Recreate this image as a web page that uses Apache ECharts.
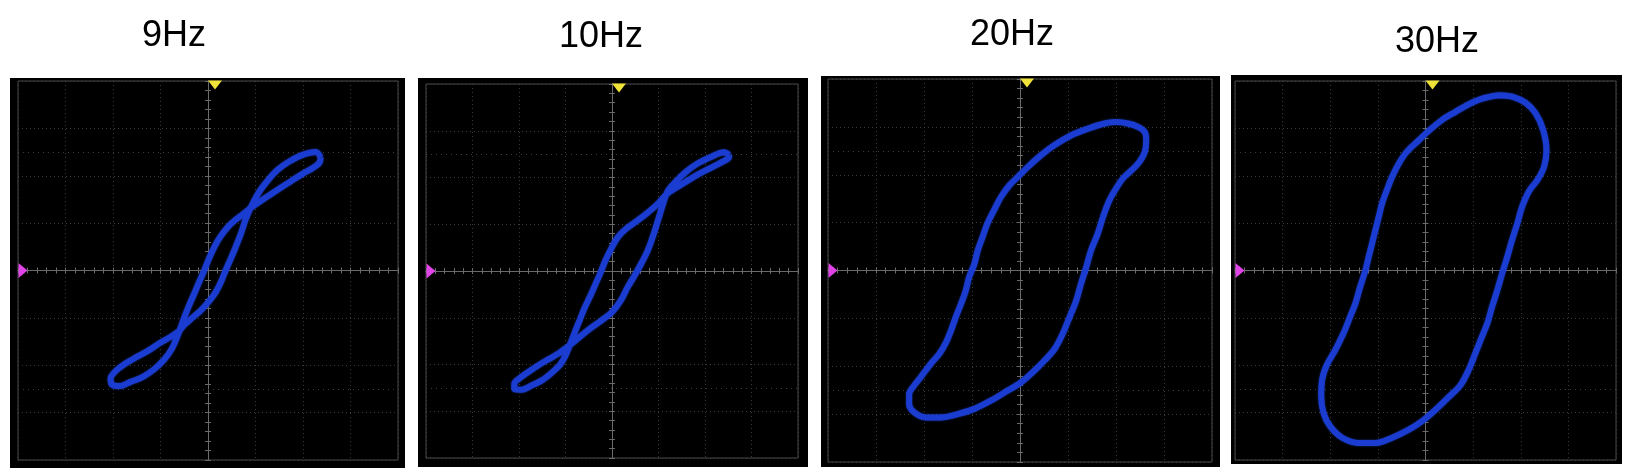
<!DOCTYPE html>
<html>
<head>
<meta charset="utf-8">
<script src="https://cdn.jsdelivr.net/npm/echarts@6/dist/echarts.min.js"></script>
<style>
html,body{margin:0;padding:0;background:#fff;}
#chart{width:1632px;height:476px;}
</style>
</head>
<body>
<div id="chart"></div>
<script>
// ---- data (oscilloscope divisions, X-Y mode) ----
const titles = ['9Hz', '10Hz', '20Hz', '30Hz'];

const hz9X = [2.37,2.27,1.99,1.71,1.46,1.25,1.07,0.90,0.79,0.69,0.58,0.48,0.37,0.27,0.16,0.02,-0.15,-0.33,-0.51,-0.61,-0.82,-1.03,-1.24,-1.49,-1.73,-1.94,-2.05,-2.03,-1.87,-1.63,-1.38,-1.14,-0.93,-0.76,-0.61,-0.51,-0.40,-0.29,-0.19,-0.08,0.02,0.13,0.25,0.41,0.58,0.74,0.90,1.07,1.25,1.49,1.74,1.99,2.20,2.35,2.37];
const hz9Y = [2.39,2.50,2.44,2.30,2.12,1.89,1.65,1.33,1.07,0.77,0.49,0.25,0.00,-0.25,-0.46,-0.65,-0.84,-1.00,-1.16,-1.28,-1.42,-1.54,-1.68,-1.82,-1.96,-2.12,-2.28,-2.40,-2.44,-2.35,-2.25,-2.09,-1.89,-1.65,-1.30,-1.02,-0.74,-0.49,-0.25,0.00,0.25,0.49,0.70,0.91,1.07,1.19,1.32,1.44,1.56,1.72,1.88,2.04,2.16,2.28,2.39];

const hz10X = [2.52,2.41,2.13,1.84,1.59,1.38,1.20,1.09,1.00,0.90,0.77,0.63,0.49,0.34,0.19,0.00,-0.23,-0.48,-0.73,-0.94,-1.16,-1.37,-1.59,-1.80,-1.98,-2.10,-2.10,-1.94,-1.73,-1.51,-1.30,-1.12,-1.00,-0.91,-0.80,-0.69,-0.59,-0.46,-0.35,-0.24,-0.14,-0.01,0.13,0.31,0.52,0.77,0.99,1.19,1.38,1.59,1.84,2.09,2.34,2.51,2.52];
const hz10Y = [2.48,2.54,2.44,2.30,2.12,1.92,1.71,1.41,1.12,0.80,0.44,0.16,-0.09,-0.34,-0.63,-0.88,-1.06,-1.24,-1.44,-1.61,-1.77,-1.89,-2.02,-2.16,-2.29,-2.41,-2.52,-2.54,-2.45,-2.34,-2.18,-2.01,-1.81,-1.59,-1.31,-1.04,-0.79,-0.52,-0.27,-0.02,0.23,0.49,0.73,0.91,1.06,1.25,1.44,1.66,1.78,1.91,2.06,2.19,2.32,2.42,2.48];

const hz20X = [2.63,2.60,2.49,2.32,2.14,2.00,1.86,1.73,1.62,1.48,1.38,1.27,1.17,1.03,0.89,0.72,0.51,0.26,0.02,-0.26,-0.61,-0.95,-1.30,-1.65,-1.96,-2.21,-2.31,-2.31,-2.21,-2.07,-1.86,-1.68,-1.54,-1.44,-1.34,-1.23,-1.13,-1.06,-0.95,-0.88,-0.78,-0.68,-0.54,-0.40,-0.22,-0.05,0.16,0.44,0.72,1.06,1.41,1.76,2.00,2.25,2.46,2.60,2.63];
const hz20Y = [2.72,2.48,2.27,2.09,1.92,1.71,1.46,1.12,0.77,0.42,0.07,-0.28,-0.63,-0.98,-1.32,-1.64,-1.88,-2.13,-2.34,-2.51,-2.72,-2.89,-3.00,-3.07,-3.07,-2.96,-2.79,-2.58,-2.41,-2.23,-1.95,-1.74,-1.50,-1.26,-0.98,-0.70,-0.42,-0.14,0.14,0.42,0.70,0.98,1.26,1.53,1.78,1.95,2.16,2.41,2.62,2.82,2.96,3.07,3.10,3.07,3.00,2.89,2.72];

const hz30X = [1.54,1.82,2.10,2.31,2.47,2.54,2.49,2.35,2.17,2.03,1.93,1.82,1.72,1.61,1.51,1.40,1.30,1.16,1.05,0.91,0.74,0.49,0.21,-0.07,-0.35,-0.70,-1.05,-1.40,-1.75,-2.00,-2.14,-2.19,-2.17,-2.07,-1.89,-1.72,-1.58,-1.47,-1.37,-1.26,-1.19,-1.12,-1.05,-0.98,-0.91,-0.81,-0.70,-0.56,-0.39,-0.14,0.07,0.35,0.63,0.91,1.19,1.54];
const hz30Y = [3.70,3.67,3.54,3.32,2.97,2.54,2.19,1.91,1.67,1.35,1.00,0.65,0.30,-0.06,-0.41,-0.76,-1.11,-1.46,-1.74,-2.09,-2.41,-2.67,-2.94,-3.18,-3.36,-3.53,-3.64,-3.64,-3.53,-3.29,-3.01,-2.66,-2.30,-1.99,-1.67,-1.32,-0.97,-0.69,-0.34,0.01,0.30,0.58,0.86,1.14,1.42,1.70,1.98,2.26,2.51,2.75,2.95,3.18,3.35,3.51,3.63,3.70];

const seriesX = [hz9X, hz10X, hz20X, hz30X];
const seriesY = [hz9Y, hz10Y, hz20Y, hz30Y];
const refLines = [2.5, -2.5];

// ---- layout (pixels) ----
const layout = [
  {box: [10, 78, 395, 390],  grid: [18, 81, 380, 379],   title: [174, 18]},
  {box: [418, 78, 390, 389], grid: [426, 84, 372, 374],  title: [601, 19]},
  {box: [821, 76, 399, 391], grid: [828, 79, 384, 383],  title: [1012, 17]},
  {box: [1231, 75, 391, 389], grid: [1235, 81, 381, 379], title: [1437, 24]}
];

const gridCol = '#3b3b3b';
const axisCol = '#6a6a6a';
const traceCol = '#1a3cd0';

const grids = [], xAxes = [], yAxes = [], series = [], titleOpts = [], graphics = [];

layout.forEach((L, i) => {
  graphics.push({
    type: 'rect', z: -100, silent: true,
    shape: {x: L.box[0], y: L.box[1], width: L.box[2], height: L.box[3]},
    style: {fill: '#000'}
  });
  grids.push({
    left: L.grid[0], top: L.grid[1], width: L.grid[2], height: L.grid[3],
    show: true, backgroundColor: 'transparent', borderColor: '#4a4a4a', borderWidth: 1
  });
  titleOpts.push({
    text: titles[i], left: L.title[0], top: L.title[1], padding: 0,
    textAlign: 'center', textBaseline: 'top',
    textStyle: {fontFamily: 'Liberation Sans', fontSize: 36, fontWeight: 'normal', color: '#000'}
  });
  const common = {
    gridIndex: i, type: 'value', min: -4, max: 4, interval: 1,
    axisLabel: {show: false},
    axisLine: {show: true, onZero: true, lineStyle: {color: axisCol, width: 1}},
    axisTick: {show: true, inside: true, length: 3, lineStyle: {color: axisCol}},
    minorTick: {show: true, splitNumber: 5, length: 3, lineStyle: {color: axisCol}},
    minorSplitLine: {show: false}
  };
  xAxes.push(Object.assign({}, common, {position: 'bottom',
    splitLine: {show: true, lineStyle: {color: gridCol, type: [1, 3], width: 1}}}));
  xAxes.push(Object.assign({}, common, {position: 'top', splitLine: {show: false}}));
  yAxes.push(Object.assign({}, common, {position: 'left',
    splitLine: {show: true, lineStyle: {color: gridCol, type: [1, 3], width: 1}}}));
  yAxes.push(Object.assign({}, common, {position: 'right', splitLine: {show: false}}));

  const pts = seriesX[i].map((x, k) => [x, seriesY[i][k]]);
  series.push({
    type: 'line', name: titles[i],
    xAxisIndex: 2 * i, yAxisIndex: 2 * i,
    data: pts, showSymbol: false, symbol: 'none', smooth: 0.35,
    lineStyle: {color: traceCol, width: 6, shadowBlur: 2, shadowColor: 'rgba(40,80,240,0.7)'},
    z: 5,
    markLine: {
      silent: true, symbol: 'none', label: {show: false},
      lineStyle: {color: '#3d3d3d', type: [1, 4], width: 1},
      data: refLines.map(v => ({yAxis: v}))
    },
    markPoint: {
      silent: true, label: {show: false},
      data: [
        {coord: [0, 4], symbol: 'triangle', symbolRotate: 180, symbolSize: [14, 9],
         symbolOffset: [7, 4], itemStyle: {color: '#efe238'}},
        {coord: [-4, 0], symbol: 'triangle', symbolRotate: -90, symbolSize: [15, 9],
         symbolOffset: [5, 0], itemStyle: {color: '#e044e6'}}
      ]
    }
  });
});

const chart = echarts.init(document.getElementById('chart'), null, {renderer: 'canvas'});
chart.setOption({
  animation: false,
  backgroundColor: '#fff',
  title: titleOpts,
  graphic: graphics,
  grid: grids,
  xAxis: xAxes,
  yAxis: yAxes,
  series: series
});
</script>
</body>
</html>
